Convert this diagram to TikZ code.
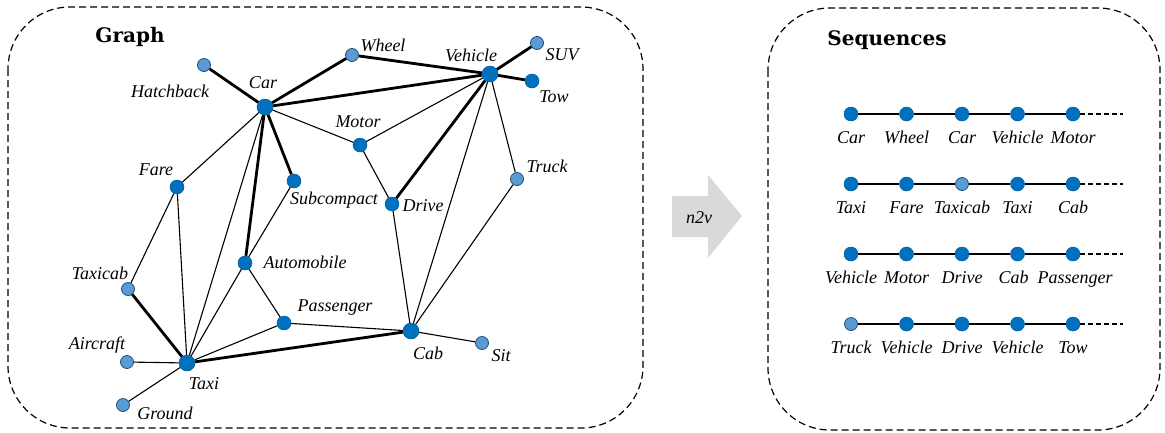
\documentclass[tikz,border=0pt]{standalone}
\usepackage{fontspec}
\setmainfont{DejaVu Serif}
\newfontfamily\wordfont{Liberation Serif}
\usetikzlibrary{positioning}

\definecolor{nodeblue}{RGB}{0,112,192}
\definecolor{paleblue}{RGB}{91,155,213}
\definecolor{rimblue}{RGB}{31,78,121}
\definecolor{arrowgray}{RGB}{217,217,217}

\begin{document}
\begin{tikzpicture}[x=1pt,y=-1pt,
  dnode/.style={circle, fill=nodeblue, draw=nodeblue!80!black, line width=0.5pt, minimum size=14pt, inner sep=0pt},
  hubnode/.style={dnode, minimum size=16pt},
  lnode/.style={circle, fill=paleblue, draw=rimblue, line width=0.8pt, minimum size=13pt, inner sep=0pt},
  word/.style={font=\wordfont\fontsize{18}{21}\selectfont\itshape, inner sep=0pt},
  heading/.style={font=\fontsize{20}{24}\selectfont\bfseries, inner sep=0pt},
  thinedge/.style={line width=1.1pt},
  thickedge/.style={line width=2.8pt},
  tail/.style={line width=1.1pt, dash pattern=on 5pt off 3pt},
  panel/.style={draw, line width=1.2pt, dash pattern=on 7pt off 4pt, rounded corners=62pt}]
\def\seqx{795.5}
\def\seqdx{55.5}

\useasboundingbox (0,0) rectangle (1165,432);

\draw[panel] (8,7) rectangle (643,428);
\draw[panel] (768,8) rectangle (1160,430);

\node[heading] (graphtitle) at (130,37) {Graph};
\node[heading] (seqtitle) at (887,40) {Sequences};

\node[lnode] (hatchback) at (204,65) {};
\node[hubnode] (car) at (265,107) {};
\node[lnode] (wheel) at (352,55) {};
\node[hubnode] (vehicle) at (490,74) {};
\node[lnode] (suv) at (537,43) {};
\node[dnode] (tow) at (532,81) {};
\node[dnode] (motor) at (360,145) {};
\node[dnode] (fare) at (177,187) {};
\node[dnode] (subcompact) at (294,181) {};
\node[dnode] (drive) at (392,204) {};
\node[lnode] (truck) at (517,179) {};
\node[dnode] (automobile) at (245,263) {};
\node[lnode] (taxicab) at (128,289) {};
\node[dnode] (passenger) at (284,323) {};
\node[lnode] (aircraft) at (127,362) {};
\node[hubnode] (taxi) at (187,363) {};
\node[lnode] (ground) at (123,405) {};
\node[hubnode] (cab) at (411,331) {};
\node[lnode] (sit) at (482,343) {};

\draw[thickedge] (hatchback) -- (car);
\draw[thickedge] (car) -- (wheel);
\draw[thickedge] (wheel) -- (vehicle);
\draw[thickedge] (car) -- (vehicle);
\draw[thickedge] (vehicle) -- (suv);
\draw[thickedge] (vehicle) -- (tow);
\draw[thickedge] (car) -- (subcompact);
\draw[thickedge] (car) -- (automobile);
\draw[thickedge] (taxicab) -- (taxi);
\draw[thickedge] (taxi) -- (cab);
\draw[thickedge] (drive) -- (vehicle);

\draw[thinedge] (car) -- (motor);
\draw[thinedge] (motor) -- (vehicle);
\draw[thinedge] (car) -- (fare);
\draw[thinedge] (car) -- (taxi);
\draw[thinedge] (subcompact) -- (automobile);
\draw[thinedge] (fare) -- (taxicab);
\draw[thinedge] (fare) -- (taxi);
\draw[thinedge] (aircraft) -- (taxi);
\draw[thinedge] (ground) -- (taxi);
\draw[thinedge] (automobile) -- (taxi);
\draw[thinedge] (automobile) -- (passenger);
\draw[thinedge] (passenger) -- (taxi);
\draw[thinedge] (passenger) -- (cab);
\draw[thinedge] (cab) -- (sit);
\draw[thinedge] (motor) -- (drive);
\draw[thinedge] (drive) -- (cab);
\draw[thinedge] (vehicle) -- (cab);
\draw[thinedge] (truck) -- (vehicle);
\draw[thinedge] (truck) -- (cab);

\node[word] at (170,91) {Hatchback};
\node[word] at (263,83) {Car};
\node[word] at (383,45) {Wheel};
\node[word] at (471,55) {Vehicle};
\node[word] at (562,55) {SUV};
\node[word] at (554,97) {Tow};
\node[word] at (358,122) {Motor};
\node[word] at (156,170) {Fare};
\node[word] at (334,200) {Subcompact};
\node[word] at (423,206) {Drive};
\node[word] at (547,166) {Truck};
\node[word] at (305,262) {Automobile};
\node[word] at (100,273) {Taxicab};
\node[word] at (335,308) {Passenger};
\node[word] at (97,345) {Aircraft};
\node[word] at (204,384) {Taxi};
\node[word] at (165,413) {Ground};
\node[word] at (428,353) {Cab};
\node[word] at (501,356) {Sit};

\fill[arrowgray] (672,196) -- (708,196) -- (708,175) -- (742,216)
  -- (708,258) -- (708,237) -- (672,237) -- cycle;
\node[font=\wordfont\fontsize{18}{21}\selectfont\itshape, inner sep=0pt] (n2v) at (699,218) {n2v};

\foreach \t/\s [count=\i] in {Car/dnode,Wheel/dnode,Car/dnode,Vehicle/dnode,Motor/dnode}
  \node[\s] (a\i) at (\seqx+\seqdx*\i,114) {};
\foreach \t/\s [count=\i] in {Taxi/dnode,Fare/dnode,Taxicab/lnode,Taxi/dnode,Cab/dnode}
  \node[\s] (b\i) at (\seqx+\seqdx*\i,184) {};
\foreach \t/\s [count=\i] in {Vehicle/dnode,Motor/dnode,Drive/dnode,Cab/dnode,Passenger/dnode}
  \node[\s] (c\i) at (\seqx+\seqdx*\i,254) {};
\foreach \t/\s [count=\i] in {Truck/lnode,Vehicle/dnode,Drive/dnode,Vehicle/dnode,Tow/dnode}
  \node[\s] (d\i) at (\seqx+\seqdx*\i,324) {};

\foreach \r/\y in {a/114,b/184,c/254,d/324} {
  \coordinate (\r6) at (1123,\y);
  \draw[thinedge] (\r1) -- (\r2) -- (\r3) -- (\r4) -- (\r5);
  \draw[tail] (\r5) -- (\r6);
}

\foreach \t [count=\i] in {Car,Wheel,Car,Vehicle,Motor}
  \node[word, anchor=base] at (\seqx+\seqdx*\i,143) {\t};
\foreach \t [count=\i] in {Taxi,Fare,Taxicab,Taxi,Cab}
  \node[word, anchor=base] at (\seqx+\seqdx*\i,213) {\t};
\foreach \t/\dx [count=\i] in {Vehicle/0,Motor/0,Drive/0,Cab/-4,Passenger/2}
  \node[word, anchor=base] at (\seqx+\seqdx*\i+\dx,283) {\t};
\foreach \t [count=\i] in {Truck,Vehicle,Drive,Vehicle,Tow}
  \node[word, anchor=base] at (\seqx+\seqdx*\i,353) {\t};
\end{tikzpicture}
\end{document}
